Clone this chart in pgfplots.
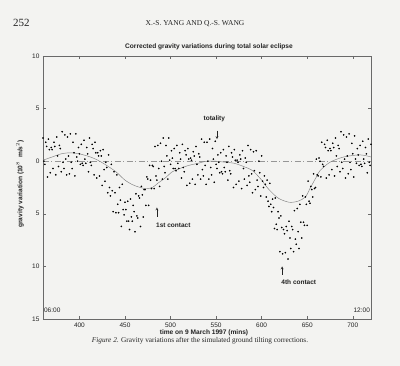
\documentclass[border=0pt]{standalone}
\usepackage{fontspec}
\setmainfont{Liberation Sans}
\newfontfamily\seriffont{Liberation Serif}
\usepackage{pgfplots}
\pgfplotsset{compat=1.18}
\definecolor{paper}{RGB}{243,243,241}
\definecolor{axgray}{RGB}{105,105,105}
\definecolor{dashgray}{RGB}{150,150,150}
\definecolor{txt}{RGB}{35,35,35}
\begin{document}
\begin{tikzpicture}[x=1pt,y=1pt]
\fill[paper] (0,0) rectangle (400,366);
\node[anchor=base west, font=\seriffont\fontsize{11}{12}\selectfont, text=txt, inner sep=0pt] at (13,339) {252};
\node[font=\seriffont\fontsize{7.5}{9}\selectfont, text=txt] at (195,342) {X.-S. YANG AND Q.-S. WANG};
\node[font=\bfseries\fontsize{6.6}{8}\selectfont, text=txt] at (209,319) {Corrected gravity variations during total solar eclipse};
\node[font=\bfseries\fontsize{6.6}{8}\selectfont, text=txt, rotate=90] at (20,182) {gravity variation (10$^{8}$\ \ m/s$^{2}$)};
\node[font=\bfseries\fontsize{6.6}{8}\selectfont, text=txt] at (204,33) {time on 9 March 1997 (mins)};
\node[font=\seriffont\fontsize{7.3}{9}\selectfont, text=txt] at (200,25) {\textit{Figure 2}. Gravity variations after the simulated ground tilting corrections.};
\begin{axis}[
  at={(43pt,47pt)}, anchor=south west,
  scale only axis, width=328pt, height=263pt,
  xmin=360, xmax=720, ymin=-15, ymax=10,
  xtick={400,450,...,700},
  ytick={-15,-10,-5,0,5,10},
  yticklabels={15,10,5,0,5,10},
  tick align=inside, major tick length=3pt,
  tick style={axgray, line width=0.4pt},
  axis line style={axgray, line width=0.5pt},
  ticklabel style={font=\fontsize{6.5}{7}\selectfont, text=txt},
  /pgf/number format/assume math mode=true,
  /pgf/number format/1000 sep={},
  clip=true,
]
\addplot[dashgray, line width=0.5pt, dash pattern=on 6pt off 2.5pt on 1pt off 2.5pt] coordinates {(360,0) (720,0)};
\addplot[gray, line width=0.45pt, smooth] coordinates {
(360,0.1)(370,0.4)(380,0.7)(390,0.8)(400,0.7)(412,0.4)(420,0.1)(428,-0.3)(440,-1.0)(450,-1.8)(460,-2.3)(472,-2.6)(480,-2.5)(486,-2.1)(494,-1.6)(502,-1.0)(510,-0.7)(520,-0.4)(530,-0.2)(540,0.0)(550,0.0)(560,-0.1)(570,-0.2)(580,-0.5)(590,-0.9)(600,-1.8)(607,-2.6)(618,-3.5)(630,-3.9)(640,-3.8)(648,-3.4)(653,-2.6)(660,-1.5)(664,-0.9)(675,-0.1)(690,0.4)(708,0.6)(720,0.4)};
\addplot[only marks, mark=*, mark size=0.6pt, black] table[row sep=\\] {
t g\\
360 2.2\\ 361 0.0\\ 362 -0.3\\ 363 1.8\\ 364 1.4\\ 365 -1.5\\ 366 2.1\\ 367 1.1\\ 368 -1.1\\ 369 1.3\\
370 1.1\\ 371 -0.7\\ 372 1.8\\ 373 1.4\\ 374 -1.3\\ 375 2.3\\ 376 0.5\\ 377 -0.5\\ 378 1.5\\ 379 1.2\\
380 -1.0\\ 381 2.8\\ 382 -0.1\\ 383 -0.7\\ 384 2.5\\ 385 0.2\\ 386 -1.3\\ 387 2.3\\ 388 0.5\\ 389 -1.2\\
390 2.6\\ 391 -0.1\\ 392 -0.7\\ 393 1.8\\ 394 0.8\\ 395 -1.4\\ 396 2.6\\ 397 0.4\\ 398 0.0\\ 399 1.3\\
400 0.7\\ 401 -0.3\\ 402 1.6\\ 403 -0.2\\ 404 -0.4\\ 405 2.0\\ 406 0.2\\ 407 -0.2\\ 408 1.3\\ 409 0.7\\
410 -1.0\\ 411 2.2\\ 412 -0.1\\ 413 -0.4\\ 414 1.6\\ 415 1.2\\ 416 -1.3\\ 417 1.8\\ 418 0.8\\ 419 -1.6\\
420 0.8\\ 421 0.5\\ 422 -1.4\\ 423 1.0\\ 424 0.5\\ 425 -2.3\\ 426 1.1\\ 427 -0.8\\ 428 -1.9\\ 429 -0.1\\
430 -0.6\\ 431 -3.0\\ 432 0.6\\ 433 -2.5\\ 434 -3.3\\ 435 -0.3\\ 436 -2.8\\ 437 -4.8\\ 438 -1.0\\ 439 -3.0\\
440 -4.9\\ 441 -1.3\\ 442 -4.1\\ 443 -4.9\\ 444 -2.5\\ 445 -3.7\\ 446 -6.2\\ 447 -2.2\\ 448 -4.6\\ 449 -5.1\\
450 -3.9\\ 451 -4.6\\ 452 -5.7\\ 453 -3.8\\ 454 -5.7\\ 455 -6.5\\ 456 -3.6\\ 457 -5.3\\ 458 -5.7\\ 459 -4.2\\
460 -4.8\\ 461 -6.7\\ 462 -3.1\\ 463 -5.2\\ 464 -5.4\\ 465 -3.3\\ 466 -3.5\\ 467 -6.2\\ 468 -2.4\\ 469 -3.2\\
470 -5.3\\ 471 -2.7\\ 472 -2.7\\ 473 -4.2\\ 474 -1.5\\ 475 -1.7\\ 476 -4.2\\ 477 -0.4\\ 478 -1.8\\ 479 -2.6\\
480 -0.4\\ 481 -0.5\\ 482 -2.6\\ 483 1.4\\ 484 -1.4\\ 485 -1.8\\ 486 1.5\\ 487 -0.7\\ 488 -2.4\\ 489 1.7\\
490 0.0\\ 491 -1.7\\ 492 2.2\\ 493 -0.5\\ 494 -1.1\\ 495 1.5\\ 496 0.5\\ 497 -1.7\\ 498 2.2\\ 499 0.1\\
500 -0.3\\ 501 1.0\\ 502 0.3\\ 503 -0.7\\ 504 1.2\\ 505 -0.7\\ 506 -0.9\\ 507 1.5\\ 508 -0.2\\ 509 -0.7\\
510 0.8\\ 511 0.2\\ 512 -1.6\\ 513 1.6\\ 514 -0.6\\ 515 -1.0\\ 516 1.0\\ 517 0.6\\ 518 -2.3\\ 519 1.2\\
520 0.2\\ 521 -2.1\\ 522 0.3\\ 523 0.1\\ 524 -1.7\\ 525 0.9\\ 526 0.5\\ 527 -2.2\\ 528 1.4\\ 529 -0.3\\
530 -1.3\\ 531 0.7\\ 532 0.4\\ 533 -1.7\\ 534 2.1\\ 535 -0.8\\ 536 -1.4\\ 537 1.8\\ 538 -0.4\\ 539 -2.2\\
540 1.8\\ 541 0.0\\ 542 -1.7\\ 543 2.1\\ 544 -0.6\\ 545 -1.3\\ 546 1.2\\ 547 0.2\\ 548 -2.0\\ 549 1.9\\
550 -0.3\\ 551 -0.7\\ 552 0.6\\ 553 -0.1\\ 554 -1.1\\ 555 0.8\\ 556 -1.0\\ 557 -1.2\\ 558 1.1\\ 559 -0.6\\
560 -1.0\\ 561 0.5\\ 562 -0.1\\ 563 -1.8\\ 564 1.4\\ 565 -0.9\\ 566 -1.2\\ 567 0.8\\ 568 0.4\\ 569 -2.5\\
570 1.1\\ 571 0.1\\ 572 -2.2\\ 573 0.1\\ 574 -0.1\\ 575 -1.9\\ 576 0.6\\ 577 0.2\\ 578 -2.6\\ 579 1.0\\
580 -0.7\\ 581 -1.7\\ 582 0.3\\ 583 -0.1\\ 584 -2.3\\ 585 1.5\\ 586 -1.4\\ 587 -2.0\\ 588 1.1\\ 589 -1.2\\
590 -3.0\\ 591 0.9\\ 592 -0.9\\ 593 -2.7\\ 594 1.0\\ 595 -1.8\\ 596 -2.4\\ 597 0.0\\ 598 -1.1\\ 599 -3.3\\
600 0.5\\ 601 -1.9\\ 602 -2.5\\ 603 -1.4\\ 604 -2.2\\ 605 -3.4\\ 606 -1.8\\ 607 -3.8\\ 608 -4.3\\ 609 -2.1\\
610 -4.1\\ 611 -4.8\\ 612 -3.6\\ 613 -4.4\\ 614 -6.4\\ 615 -3.5\\ 616 -6.0\\ 617 -6.5\\ 618 -4.8\\ 619 -5.4\\
620 -8.6\\ 621 -5.2\\ 622 -6.3\\ 623 -8.8\\ 624 -6.5\\ 625 -6.9\\ 626 -8.7\\ 627 -6.2\\ 628 -6.6\\ 629 -9.3\\
630 -5.7\\ 631 -7.3\\ 632 -8.3\\ 633 -6.2\\ 634 -6.5\\ 635 -8.6\\ 636 -4.7\\ 637 -7.4\\ 638 -7.9\\ 639 -4.5\\
640 -6.7\\ 641 -8.3\\ 642 -4.1\\ 643 -5.8\\ 644 -7.3\\ 645 -3.3\\ 646 -5.8\\ 647 -6.1\\ 648 -3.4\\ 649 -4.1\\
650 -6.1\\ 651 -1.9\\ 652 -3.8\\ 653 -4.0\\ 654 -2.4\\ 655 -2.7\\ 656 -3.4\\ 657 -1.2\\ 658 -2.6\\ 659 -2.5\\
660 0.2\\ 661 -1.3\\ 662 -1.4\\ 663 0.3\\ 664 0.0\\ 665 -1.5\\ 666 1.8\\ 667 -0.3\\ 668 -0.5\\ 669 1.6\\
670 1.3\\ 671 -1.6\\ 672 2.0\\ 673 1.0\\ 674 -1.3\\ 675 1.2\\ 676 1.0\\ 677 -0.8\\ 678 1.7\\ 679 1.3\\
680 -1.4\\ 681 2.2\\ 682 0.5\\ 683 -0.5\\ 684 1.5\\ 685 1.2\\ 686 -1.0\\ 687 2.8\\ 688 -0.1\\ 689 -0.7\\
690 2.5\\ 691 0.2\\ 692 -1.6\\ 693 2.3\\ 694 0.5\\ 695 -1.2\\ 696 2.6\\ 697 -0.1\\ 698 -0.8\\ 699 1.7\\
700 0.7\\ 701 -1.5\\ 702 2.4\\ 703 0.2\\ 704 -0.2\\ 705 1.2\\ 706 0.6\\ 707 -0.4\\ 708 1.5\\ 709 -0.3\\
710 -0.5\\ 711 1.9\\ 712 0.2\\ 713 -0.2\\ 714 1.3\\ 715 0.7\\ 716 -1.1\\ 717 2.1\\ 718 -0.1\\ 719 -0.4\\
720 1.6\\
};
\node[font=\bfseries\fontsize{6.5}{7}\selectfont, text=txt] at (axis cs:548,4.0) {totality};
\draw[->, >=stealth, line width=0.3pt, txt] (axis cs:551,2.9) -- (axis cs:551,2.1);
\draw[->, >=stealth, line width=0.3pt, txt] (axis cs:485,-5.3) -- (axis cs:485,-4.4);
\node[anchor=west, inner sep=0pt, font=\bfseries\fontsize{6.5}{7}\selectfont, text=txt] at (axis cs:484,-6.1) {1st contact};
\draw[->, >=stealth, line width=0.3pt, txt] (axis cs:622.5,-10.8) -- (axis cs:622.5,-10.0);
\node[anchor=west, inner sep=0pt, font=\bfseries\fontsize{6.5}{7}\selectfont, text=txt] at (axis cs:621.5,-11.5) {4th contact};
\node[anchor=west, inner sep=0pt, font=\fontsize{6.5}{7}\selectfont, text=txt] at (axis cs:361,-14.2) {06:00};
\node[anchor=east, inner sep=0pt, font=\fontsize{6.5}{7}\selectfont, text=txt] at (axis cs:719,-14.2) {12:00};
\end{axis}
\end{tikzpicture}
\end{document}
